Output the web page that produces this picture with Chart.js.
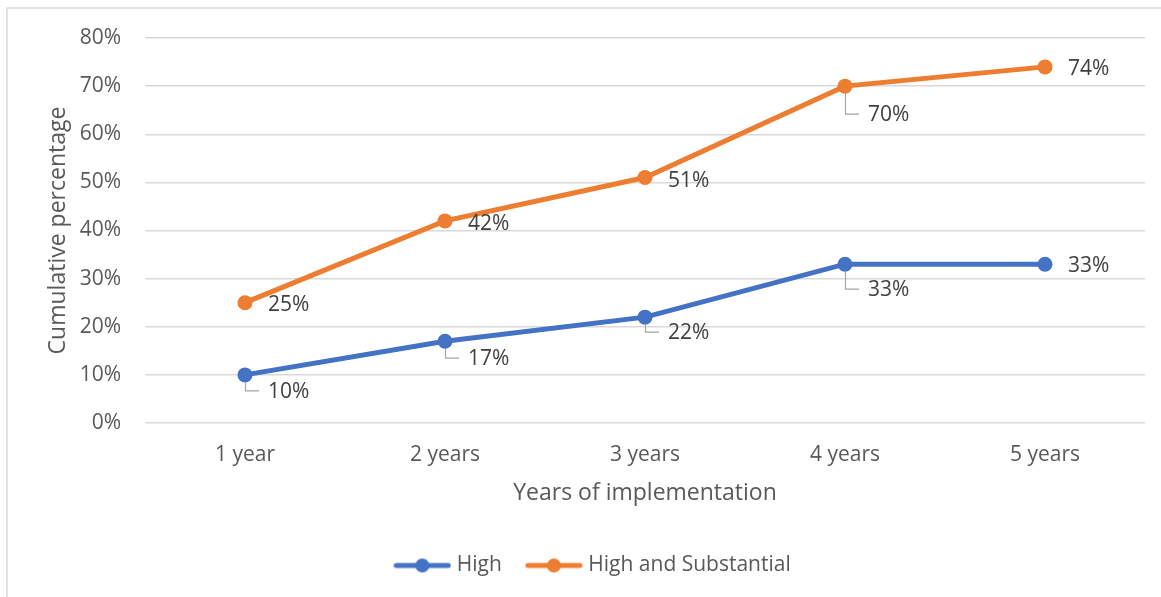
<!DOCTYPE html>
<html>
<head>
<meta charset="utf-8">
<script src="https://cdn.jsdelivr.net/npm/chart.js@4.4.1/dist/chart.umd.min.js"></script>
<style>
  html, body { margin: 0; padding: 0; background: #ffffff; }
  #wrap { width: 1161px; height: 597px; position: relative; }
</style>
</head>
<body>
<div id="wrap"><canvas id="chart" width="1161" height="597"></canvas></div>
<script>
// Cumulative share of schools reaching each implementation level
const categories = ['1 year', '2 years', '3 years', '4 years', '5 years'];
const seriesNames = ['High', 'High and Substantial'];
const highValues = [10, 17, 22, 33, 33];
const highSubstantialValues = [25, 42, 51, 70, 74];
const yTickValues = [0, 10, 20, 30, 40, 50, 60, 70, 80];

// Label placement per point: vertical drop of the label and whether a leader line is drawn
const highLabelDrop = [16, 17, 15, 25, 1];
const highLabelLeader = [true, true, true, true, false];
const substantialLabelDrop = [1, 2, 2, 28, 1];
const substantialLabelLeader = [false, false, false, true, false];

const FONT = "'Open Sans', 'DejaVu Sans', sans-serif";
const BLUE = '#4472C4';
const ORANGE = '#ED7D31';

function legendIcon(color) {
  const c = document.createElement('canvas');
  c.width = 58; c.height = 16;
  const g = c.getContext('2d');
  g.strokeStyle = color;
  g.lineWidth = 5;
  g.lineCap = 'round';
  g.beginPath(); g.moveTo(3, 8); g.lineTo(55, 8); g.stroke();
  g.fillStyle = color;
  g.beginPath(); g.arc(29, 8, 7, 0, Math.PI * 2); g.fill();
  return c;
}
const legendIcons = [legendIcon(BLUE), legendIcon(ORANGE)];

const frame = {
  id: 'frame',
  beforeDraw(chart) {
    const ctx = chart.ctx;
    ctx.save();
    ctx.fillStyle = '#ffffff';
    ctx.fillRect(0, 0, chart.width, chart.height);
    ctx.strokeStyle = '#d9d9d9';
    ctx.lineWidth = 1.5;
    ctx.beginPath();
    ctx.moveTo(7, chart.height);
    ctx.lineTo(7, 8);
    ctx.lineTo(chart.width, 8);
    ctx.stroke();
    ctx.restore();
  }
};

const pointLabels = {
  id: 'pointLabels',
  afterDatasetsDraw(chart) {
    const ctx = chart.ctx;
    const drops = [highLabelDrop, substantialLabelDrop];
    const leaders = [highLabelLeader, substantialLabelLeader];
    ctx.save();
    chart.data.datasets.forEach((ds, di) => {
      const meta = chart.getDatasetMeta(di);
      meta.data.forEach((pt, i) => {
        const x = pt.x, y = pt.y;
        const dy = drops[di][i];
        if (leaders[di][i]) {
          ctx.strokeStyle = '#a6a6a6';
          ctx.lineWidth = 1.2;
          ctx.beginPath();
          ctx.moveTo(x + 0.5, y + 7);
          ctx.lineTo(x + 0.5, y + dy);
          ctx.lineTo(x + 14, y + dy);
          ctx.stroke();
        }
        ctx.fillStyle = '#404040';
        ctx.font = '21px ' + FONT;
        ctx.textAlign = 'left';
        ctx.textBaseline = 'middle';
        ctx.fillText(ds.data[i] + '%', x + 23, y + dy + 1);
      });
    });
    ctx.restore();
  }
};

new Chart(document.getElementById('chart'), {
  type: 'line',
  data: {
    labels: categories,
    datasets: [
      {
        label: seriesNames[0],
        data: highValues,
        borderColor: BLUE,
        backgroundColor: BLUE,
        borderWidth: 5,
        pointRadius: 7.5,
        pointHoverRadius: 7.5,
        pointBorderWidth: 0,
        tension: 0
      },
      {
        label: seriesNames[1],
        data: highSubstantialValues,
        borderColor: ORANGE,
        backgroundColor: ORANGE,
        borderWidth: 5,
        pointRadius: 7.5,
        pointHoverRadius: 7.5,
        pointBorderWidth: 0,
        tension: 0
      }
    ]
  },
  options: {
    responsive: false,
    animation: false,
    layout: { padding: { left: 44, right: 16, top: 38, bottom: 11 } },
    scales: {
      x: {
        offset: true,
        grid: { display: false },
        border: { display: false },
        ticks: { color: '#595959', font: { family: FONT, size: 21 }, padding: 11 },
        title: {
          display: true,
          text: 'Years of implementation',
          color: '#595959',
          font: { family: FONT, size: 23 },
          padding: { top: 4, bottom: 20 }
        },
        afterFit(scale) { scale.height = 104; }
      },
      y: {
        min: 0,
        max: 80,
        afterBuildTicks(scale) { scale.ticks = yTickValues.map(v => ({ value: v })); },
        grid: { color: '#d9d9d9', lineWidth: 1.5, drawTicks: false },
        border: { display: false },
        ticks: {
          color: '#595959',
          font: { family: FONT, size: 21 },
          padding: 24,
          callback: v => v + '%'
        },
        title: {
          display: true,
          text: 'Cumulative percentage',
          color: '#595959',
          font: { family: FONT, size: 23 },
          padding: { top: 1, bottom: 0 }
        },
        afterFit(scale) { scale.width = 101; }
      }
    },
    plugins: {
      legend: {
        position: 'bottom',
        labels: {
          usePointStyle: true,
          pointStyleWidth: 48,
          padding: 28,
          color: '#595959',
          font: { family: FONT, size: 21 },
          generateLabels(chart) {
            const items = Chart.defaults.plugins.legend.labels.generateLabels(chart);
            items.forEach((it, i) => { it.pointStyle = legendIcons[i]; });
            return items;
          }
        }
      },
      tooltip: { enabled: false }
    }
  },
  plugins: [frame, pointLabels]
});
</script>
</body>
</html>
